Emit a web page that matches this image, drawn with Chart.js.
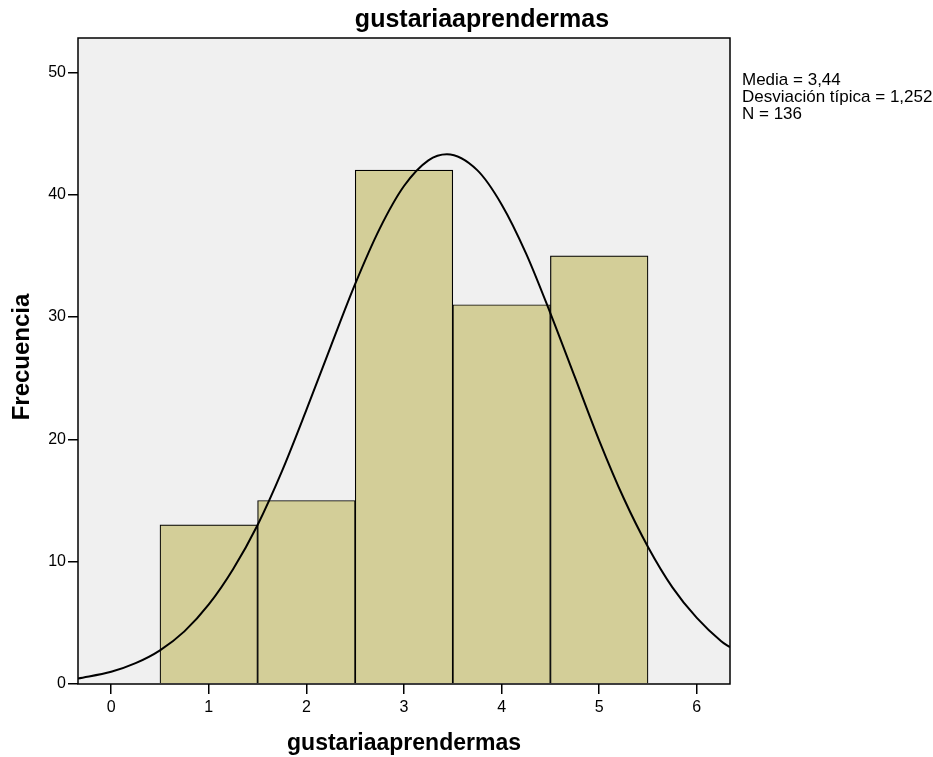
<!DOCTYPE html>
<html>
<head>
<meta charset="utf-8">
<script src="https://cdn.jsdelivr.net/npm/chart.js@4.4.1/dist/chart.umd.min.js"></script>
<style>
	html, body { margin: 0; padding: 0; background: #fff; }
	#wrap { width: 933px; height: 757px; }
</style>
</head>
<body>
<div id="wrap"><canvas id="myChart" width="933" height="757"></canvas></div>
<script>
// histogram bins (value -> count)
const binValues = [1, 2, 3, 4, 5]
const binCounts = [13, 15, 42, 31, 35]

// normal curve
const curveX = [-0.34, 0, 0.25, 0.5, 0.75, 1, 1.25, 1.5, 1.75, 2, 2.25, 2.5, 2.75, 3, 3.25, 3.44, 3.75, 4, 4.25, 4.5, 4.75, 5, 5.25, 5.5, 5.75, 6, 6.25, 6.34]
const curveY = [0.45, 1.0, 1.7, 2.75, 4.3, 6.5, 9.4, 13.0, 17.4, 22.4, 27.6, 32.7, 37.2, 40.7, 42.8, 43.3, 42.0, 39.2, 35.2, 30.3, 25.1, 19.9, 15.2, 11.2, 7.9, 5.4, 3.5, 3.0]

const xTicks = [0, 1, 2, 3, 4, 5, 6]
const yTicks = [0, 10, 20, 30, 40, 50]

const chartTitle = 'gustariaaprendermas'
const xTitle = 'gustariaaprendermas'
const yTitle = 'Frecuencia'
const statsLines = ['Media = 3,44', 'Desviación típica = 1,252', 'N = 136']

const FONT = '"Liberation Sans", Arial, sans-serif'

const decorPlugin = {
	id: 'decor',
	beforeDraw(chart) {
		const { ctx, chartArea: a } = chart
		ctx.save()
		ctx.fillStyle = '#f0f0f0'
		ctx.fillRect(a.left, a.top, a.right - a.left, a.bottom - a.top)
		ctx.restore()
	},
	afterDraw(chart) {
		const { ctx, chartArea: a } = chart
		ctx.save()
		ctx.strokeStyle = '#000'
		ctx.lineWidth = 1.5
		ctx.strokeRect(a.left, a.top, a.right - a.left, a.bottom - a.top)

		ctx.fillStyle = '#000'
		ctx.textAlign = 'center'
		ctx.textBaseline = 'middle'
		ctx.font = 'bold 25px ' + FONT
		ctx.fillText(chartTitle, 482, 20)
		ctx.font = 'bold 23px ' + FONT
		ctx.fillText(xTitle, (a.left + a.right) / 2, 744)

		ctx.font = 'bold 24px ' + FONT
		ctx.translate(22, 357)
		ctx.rotate(-Math.PI / 2)
		ctx.fillText(yTitle, 0, 0)
		ctx.restore()

		ctx.save()
		ctx.fillStyle = '#000'
		ctx.font = '17px ' + FONT
		ctx.textAlign = 'left'
		ctx.textBaseline = 'middle'
		statsLines.forEach((s, i) => ctx.fillText(s, 742, 80 + i * 17))
		ctx.restore()
	},
}

var ctx = document.getElementById('myChart').getContext('2d')
var myChart = new Chart(ctx, {
	type: 'bar',
	data: {
		datasets: [
			{
				type: 'line',
				data: curveX.map((x, i) => ({ x: x, y: curveY[i] })),
				borderColor: '#000',
				borderWidth: 2,
				pointRadius: 0,
				cubicInterpolationMode: 'monotone',
				fill: false,
				order: 0,
			},
			{
				type: 'bar',
				data: binValues.map((x, i) => ({ x: x, y: binCounts[i] })),
				backgroundColor: '#d3ce98',
				borderColor: '#000',
				borderWidth: 1.2,
				barPercentage: 1,
				categoryPercentage: 1,
				order: 1,
			},
		],
	},
	options: {
		responsive: false,
		animation: false,
		layout: { padding: { left: 0, top: 38, right: 203, bottom: 0 } },
		plugins: {
			legend: { display: false },
			tooltip: { enabled: false },
		},
		scales: {
			x: {
				type: 'linear',
				offset: false,
				min: -0.34,
				max: 6.34,
				afterBuildTicks: (s) => { s.ticks = xTicks.map((v) => ({ value: v })) },
				afterFit: (s) => { s.height = 73 },
				grid: { offset: false, drawOnChartArea: false, drawTicks: true, tickLength: 10, color: '#000', lineWidth: 1.5 },
				border: { display: false },
				ticks: { color: '#000', font: { family: FONT, size: 16 }, padding: 4, maxRotation: 0 },
			},
			y: {
				min: 0,
				max: 52.8,
				afterBuildTicks: (s) => { s.ticks = yTicks.map((v) => ({ value: v })) },
				afterFit: (s) => { s.width = 78 },
				grid: { drawOnChartArea: false, drawTicks: true, tickLength: 10, color: '#000', lineWidth: 1.5 },
				border: { display: false },
				ticks: { color: '#000', font: { family: FONT, size: 16 }, padding: 2 },
			},
		},
	},
	plugins: [decorPlugin],
})
</script>
</body>
</html>
